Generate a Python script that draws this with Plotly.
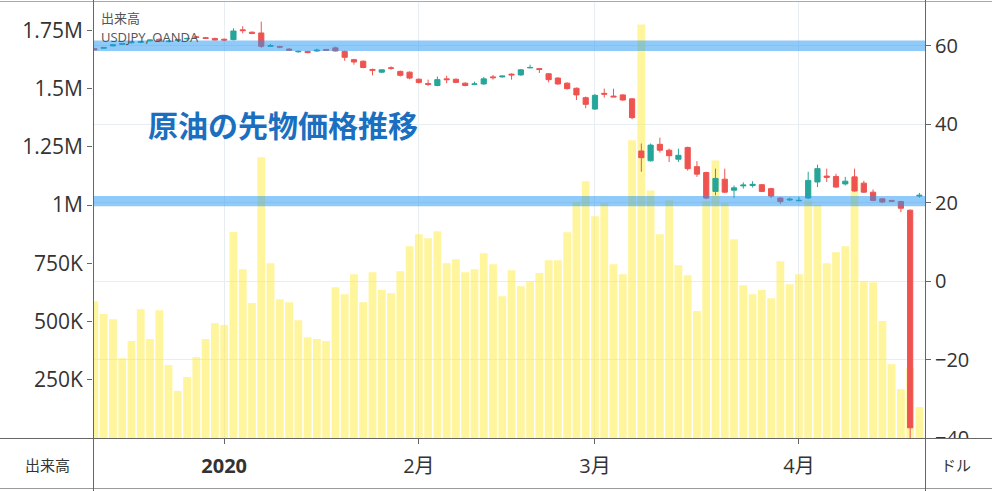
import pandas as pd
import plotly.graph_objects as go

# ---------------- data ----------------
holidays = ["2019-12-25", "2020-01-01", "2020-01-20", "2020-02-17", "2020-04-10"]
dates = [d.strftime("%Y-%m-%d") for d in pd.bdate_range("2019-12-11", "2020-04-21")
         if d.strftime("%Y-%m-%d") not in holidays]

volume_k = [587, 532, 510, 343, 416, 553, 425, 549, 313, 202,
            262, 347, 425, 493, 485, 884, 725, 580, 1205, 750,
            596, 583, 506, 433, 425, 416, 647, 617, 703, 583,
            712, 635, 622, 716, 823, 875, 858, 888, 750, 768,
            712, 725, 793, 746, 609, 720, 652, 673, 708, 763,
            763, 883, 1012, 1102, 952, 1008, 746, 703, 1278, 1775,
            1063, 875, 1021, 742, 699, 545, 1016, 1192, 1010, 853,
            656, 617, 635, 600, 759, 660, 703, 1020, 1000, 750,
            797, 823, 1120, 673, 669, 502, 317, 210, 300, 133]
volume = [v * 1000 for v in volume_k]

open_ = [59.3, 59.4, 60.0, 60.4, 60.8, 60.9, 61.3, 61.7, 61.1, 61.4,
         61.8, 62.3, 62.1, 61.9, 61.7, 61.6, 64.1, 63.5, 63.3, 59.9,
         59.8, 59.2, 58.5, 58.6, 58.7, 59.1, 59.5, 58.6, 56.5, 56.1,
         54.0, 53.3, 54.4, 53.5, 53.3, 51.5, 50.4, 49.9, 51.6, 51.5,
         50.5, 50.2, 50.3, 52.1, 52.1, 52.8, 52.6, 54.4, 54.2, 52.9,
         51.8, 50.5, 49.2, 46.8, 43.9, 47.9, 47.2, 47.5, 46.5, 33.2,
         30.7, 34.9, 33.4, 31.1, 34.1, 29.2, 27.7, 22.9, 26.0, 23.2,
         24.3, 24.4, 24.6, 23.6, 21.2, 20.7, 20.5, 21.2, 25.3, 26.8,
         26.7, 24.8, 26.6, 25.0, 22.7, 21.0, 20.6, 20.3, 18.1, 21.7]
high = [59.5, 59.7, 60.4, 60.7, 61.1, 61.3, 61.6, 61.9, 61.5, 61.7,
        62.1, 62.5, 62.3, 62.1, 61.9, 64.5, 65.0, 63.7, 66.2, 60.5,
        60.0, 59.4, 58.8, 58.7, 59.3, 59.2, 59.8, 58.8, 56.7, 56.3,
        54.2, 54.0, 54.8, 53.7, 53.5, 51.7, 51.4, 52.2, 52.4, 51.7,
        50.7, 50.9, 52.1, 52.6, 52.4, 53.0, 54.1, 55.2, 54.4, 53.1,
        52.0, 50.7, 49.4, 47.1, 47.7, 49.1, 49.1, 47.7, 46.7, 35.1,
        35.1, 36.6, 33.8, 33.8, 34.3, 30.6, 27.9, 28.7, 28.7, 24.4,
        25.2, 25.5, 24.8, 23.8, 21.4, 21.3, 21.5, 27.9, 29.7, 28.7,
        27.4, 26.6, 28.7, 25.6, 23.4, 21.2, 20.7, 20.5, 18.3, 22.5]
low = [58.9, 59.3, 59.9, 60.3, 60.6, 60.7, 61.1, 61.0, 60.9, 61.2,
       61.6, 62.0, 61.8, 61.4, 61.2, 61.4, 63.2, 63.0, 59.5, 59.7,
       59.4, 58.7, 58.3, 58.1, 58.5, 58.9, 58.6, 56.2, 55.2, 54.3,
       52.5, 53.1, 53.9, 52.2, 51.5, 50.4, 49.8, 49.7, 50.5, 50.5,
       49.7, 50.0, 50.1, 51.4, 51.9, 51.4, 52.4, 54.3, 53.1, 50.7,
       50.1, 48.9, 46.2, 44.1, 43.7, 46.8, 47.0, 46.0, 41.3, 27.9,
       30.5, 32.8, 30.4, 30.4, 28.2, 26.6, 20.9, 21.9, 22.5, 21.2,
       23.6, 23.9, 22.7, 21.2, 19.7, 20.4, 20.4, 20.9, 24.0, 25.3,
       23.8, 24.4, 22.8, 22.5, 20.4, 19.9, 20.2, 17.6, -40.3, 21.3]
close = [59.0, 59.6, 60.3, 60.6, 61.0, 61.1, 61.5, 61.2, 61.2, 61.6,
         61.9, 62.2, 61.9, 61.5, 61.5, 63.8, 63.9, 63.2, 59.9, 60.1,
         59.7, 58.9, 58.6, 58.3, 58.9, 58.9, 58.7, 57.1, 55.9, 54.5,
         53.8, 53.9, 54.3, 52.5, 51.8, 50.7, 50.2, 51.4, 51.4, 50.7,
         49.9, 50.3, 51.6, 51.9, 52.3, 52.6, 53.9, 54.5, 54.0, 51.4,
         50.3, 49.1, 47.5, 45.1, 47.4, 47.7, 47.0, 46.2, 41.7, 31.5,
         34.7, 33.4, 32.0, 32.1, 28.7, 27.3, 21.2, 26.2, 22.7, 23.8,
         24.5, 24.7, 22.9, 21.7, 20.3, 20.9, 20.6, 25.7, 28.7, 26.5,
         24.0, 25.5, 23.0, 22.7, 20.6, 20.2, 20.4, 18.6, -37.4, 21.9]

band_levels = [(58.7, 61.4), (19.1, 21.7)]

month_tick_dates = ["2020-01-02", "2020-02-03", "2020-03-02", "2020-04-01"]
month_tick_text = ["<b>2020</b>", "2月", "3月", "4月"]
vol_tickvals = [250000, 500000, 750000, 1000000, 1250000, 1500000, 1750000]
vol_ticktext = ["250K", "500K", "750K", "1M", "1.25M", "1.5M", "1.75M"]
price_tickvals = [-40, -20, 0, 20, 40, 60]
price_ticktext = ["\u221240", "\u221220", "0", "20", "40", "60"]

# ---------------- figure ----------------
FONT = "Open Sans, Noto Sans CJK JP, sans-serif"
AX = "#666666"
GRID = "#e8edf1"

fig = go.Figure()
fig.add_trace(go.Bar(x=dates, y=volume, yaxis="y",
                     marker=dict(color="rgba(255,235,59,0.5)", line=dict(width=0)),
                     hoverinfo="skip", showlegend=False))
fig.add_trace(go.Candlestick(x=dates, open=open_, high=high, low=low, close=close,
                             yaxis="y2", whiskerwidth=0,
                             increasing=dict(line=dict(color="#26a69a", width=1), fillcolor="#26a69a"),
                             decreasing=dict(line=dict(color="#ef5350", width=1), fillcolor="#ef5350"),
                             showlegend=False))

W, H = 992, 491
L, R, T, B = 93, 67, 2, 53
pw, ph = W - L - R, H - T - B
def px(xp):
    return (xp - L) / pw
def py(yp):
    return (H - B - yp) / ph

shapes = []
for lo, hi in band_levels:
    shapes.append(dict(type="rect", xref="paper", yref="y2", x0=0, x1=1, y0=lo, y1=hi,
                       fillcolor="rgba(33,150,243,0.5)", line=dict(width=0), layer="above"))
# hide lower half of the bottom right label (cut by the footer)
shapes.append(dict(type="rect", xref="paper", yref="paper", x0=px(927), x1=px(992),
                   y0=py(452), y1=py(439), fillcolor="white", line=dict(width=0), layer="above"))
# frame lines
line_style = dict(color=AX, width=1)
shapes += [
    dict(type="line", xref="paper", yref="paper", x0=px(0), x1=px(992), y0=py(438.5), y1=py(438.5), line=line_style, layer="above"),
    dict(type="line", xref="paper", yref="paper", x0=px(0), x1=px(992), y0=py(488.5), y1=py(488.5), line=dict(color="#999", width=1), layer="above"),
    dict(type="line", xref="paper", yref="paper", x0=px(0), x1=px(992), y0=py(1.5), y1=py(1.5), line=dict(color="#aaa", width=1), layer="above"),
    dict(type="line", xref="paper", yref="paper", x0=px(93.5), x1=px(93.5), y0=py(0), y1=py(491), line=line_style, layer="above"),
    dict(type="line", xref="paper", yref="paper", x0=px(925.5), x1=px(925.5), y0=py(0), y1=py(491), line=line_style, layer="above"),
]

annotations = [
    dict(text="出来高", x=px(99), y=py(18), xref="paper", yref="paper", xanchor="left", yanchor="middle",
         showarrow=False, font=dict(size=13, color="#555", family=FONT)),
    dict(text="USDJPY, OANDA", x=px(99), y=py(37), xref="paper", yref="paper", xanchor="left", yanchor="middle",
         showarrow=False, font=dict(size=13, color="#555", family=FONT)),
    dict(text="<b>原油の先物価格推移</b>", x=px(283), y=py(125), xref="paper", yref="paper",
         xanchor="center", yanchor="middle", showarrow=False,
         font=dict(size=30, color="#1b6fc0", family=FONT)),
    dict(text="出来高", x=px(47), y=py(465), xref="paper", yref="paper", xanchor="center", yanchor="middle",
         showarrow=False, font=dict(size=15, color="#333", family=FONT)),
    dict(text="ドル", x=px(956), y=py(465), xref="paper", yref="paper", xanchor="center", yanchor="middle",
         showarrow=False, font=dict(size=15, color="#333", family=FONT)),
]

fig.update_layout(
    width=W, height=H, margin=dict(l=L, r=R, t=T, b=B),
    paper_bgcolor="white", plot_bgcolor="white",
    bargap=0.16, boxgap=0.2,
    font=dict(family=FONT, color="#333"),
    shapes=shapes, annotations=annotations,
    xaxis=dict(type="category", range=[-0.15, 89.6], tickmode="array",
               tickvals=month_tick_dates, ticktext=month_tick_text,
               showgrid=True, gridcolor=GRID, gridwidth=1,
               ticks="outside", ticklen=5, tickcolor=AX,
               showline=False, tickfont=dict(size=20, color="#333"),
               ticklabelstandoff=5, rangeslider=dict(visible=False)),
    yaxis=dict(range=[0, 1.872e6], tickmode="array", tickvals=vol_tickvals, ticktext=vol_ticktext,
               showgrid=False, zeroline=False, ticks="outside", ticklen=5, tickcolor=AX,
               showline=False, tickfont=dict(size=21, color="#333"), fixedrange=True),
    yaxis2=dict(overlaying="y", side="right", range=[-40, 71.2], tickmode="array",
                tickvals=price_tickvals, ticktext=price_ticktext,
                showgrid=True, gridcolor=GRID, zeroline=False, ticks="outside", ticklen=5,
                tickcolor=AX, showline=False, tickfont=dict(size=20, color="#333")),
)

fig.write_html("out.html", config={"displayModeBar": False},
               post_script="document.body.style.margin='0';")
